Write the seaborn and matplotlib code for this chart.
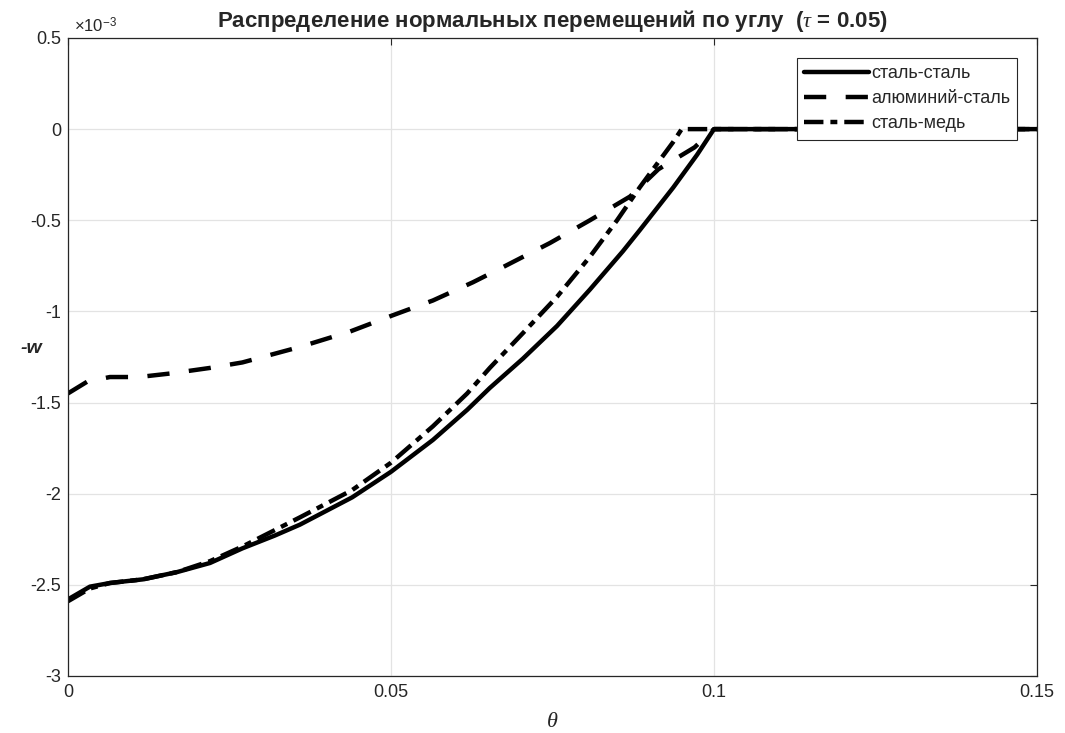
import pandas as pd
import seaborn as sns
import matplotlib.pyplot as plt
from matplotlib.ticker import FuncFormatter

# values of -w are in units of 1e-3
theta_ss = [0, 0.0034, 0.0065, 0.0116, 0.0169, 0.022, 0.027, 0.032, 0.0359, 0.044,
            0.05, 0.0565, 0.0618, 0.0653, 0.0704, 0.0757, 0.0808, 0.0859, 0.0885,
            0.0937, 0.0974, 0.1, 0.15]
w_ss = [-2.58, -2.51, -2.49, -2.47, -2.43, -2.38, -2.30, -2.23, -2.17, -2.02,
        -1.88, -1.705, -1.54, -1.42, -1.26, -1.08, -0.88, -0.67, -0.555,
        -0.32, -0.14, 0, 0]

theta_as = [0, 0.003, 0.0065, 0.011, 0.016, 0.022, 0.027, 0.0359, 0.0437, 0.05,
            0.0565, 0.0627, 0.0674, 0.0746, 0.0808, 0.087, 0.0914, 0.097, 0.1, 0.15]
w_as = [-1.45, -1.385, -1.36, -1.36, -1.34, -1.31, -1.28, -1.195, -1.11, -1.025,
        -0.94, -0.84, -0.756, -0.625, -0.50, -0.37, -0.22, -0.10, 0, 0]

theta_sm = [0, 0.0034, 0.0065, 0.0116, 0.0169, 0.022, 0.027, 0.0359, 0.044, 0.05,
            0.0565, 0.0618, 0.0653, 0.0704, 0.0757, 0.0808, 0.085, 0.0885, 0.0912,
            0.0937, 0.095, 0.1, 0.15]
w_sm = [-2.59, -2.52, -2.49, -2.47, -2.43, -2.37, -2.29, -2.13, -1.98, -1.83,
        -1.63, -1.45, -1.31, -1.12, -0.92, -0.70, -0.50, -0.32, -0.19,
        -0.07, 0, 0, 0]

labels = ['сталь-сталь', 'алюминий-сталь', 'сталь-медь']

df = pd.concat([
    pd.DataFrame({'theta': theta_ss, 'w': w_ss, 'pair': labels[0]}),
    pd.DataFrame({'theta': theta_as, 'w': w_as, 'pair': labels[1]}),
    pd.DataFrame({'theta': theta_sm, 'w': w_sm, 'pair': labels[2]}),
])

sns.set_style('white')
plt.rcParams['font.family'] = ['Liberation Sans', 'DejaVu Sans']
plt.rcParams['axes.unicode_minus'] = False
plt.rcParams['lines.scale_dashes'] = False
plt.rcParams['mathtext.fontset'] = 'custom'
plt.rcParams['mathtext.rm'] = 'Liberation Sans'
plt.rcParams['mathtext.it'] = 'Liberation Serif:italic'

fig = plt.figure(figsize=(10.65, 7.33), dpi=100)
ax = fig.add_axes([0.0638, 0.0778, 0.9099, 0.8704])

sns.lineplot(data=df, x='theta', y='w', style='pair', style_order=labels,
             dashes={labels[0]: '', labels[1]: (16, 14), labels[2]: (14, 5, 5, 5)},
             color='black', linewidth=3.2, estimator=None, sort=False,
             errorbar=None, ax=ax)

ax.set_xlim(0, 0.15)
ax.set_ylim(-3, 0.5)
ax.set_xticks([0, 0.05, 0.1, 0.15])
ax.set_yticks([-3, -2.5, -2, -1.5, -1, -0.5, 0, 0.5])
ax.xaxis.set_major_formatter(FuncFormatter(lambda v, p: '%g' % round(v, 4)))
ax.yaxis.set_major_formatter(FuncFormatter(lambda v, p: '%g' % round(v, 4)))
ax.grid(True, color='#e3e3e3', linewidth=0.9)
ax.set_axisbelow(True)
for s in ax.spines.values():
    s.set_color('#262626')
    s.set_linewidth(0.9)
ax.tick_params(direction='in', length=5, width=0.8, color='#262626',
               top=True, right=True, labelsize=13, labelcolor='#262626')
ax.tick_params(axis='x', pad=6)
ax.tick_params(axis='y', pad=5)

ax.set_title('Распределение нормальных перемещений по углу  ($\\tau$ = 0.05)',
             fontsize=16, fontweight='bold', pad=8)
ax.set_xlabel('θ', fontsize=16, family='Liberation Serif', style='italic')
ax.xaxis.set_label_coords(0.5, -0.058)
ax.set_ylabel('-w', fontsize=14, fontweight='bold', style='italic', rotation=0)
ax.yaxis.set_label_coords(-0.038, 0.5)
ax.text(0.006, 1.004, '×10$^{-3}$', transform=ax.transAxes, fontsize=12,
        color='#262626', va='bottom', ha='left')

handles, _ = ax.get_legend_handles_labels()
leg = ax.legend(handles, labels, loc='upper right', fontsize=13,
                handlelength=3.6, handletextpad=0.1, labelspacing=0.45,
                borderaxespad=1.1, fancybox=False, framealpha=1,
                edgecolor='#262626', borderpad=0.4)
leg.get_frame().set_linewidth(0.8)

plt.savefig('out.png', dpi=100)
